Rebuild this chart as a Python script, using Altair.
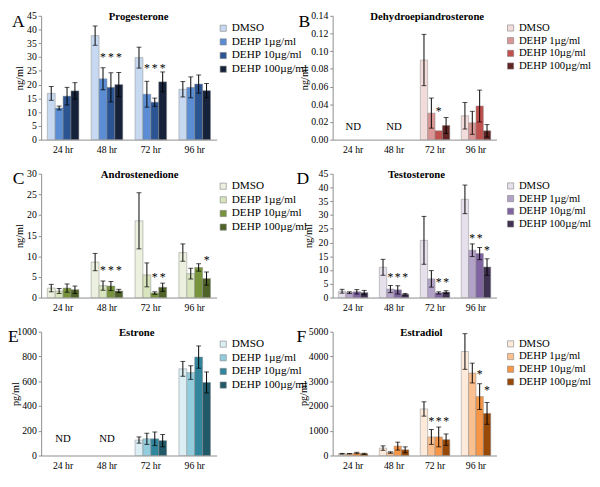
import altair as alt
import pandas as pd

FONT = "Liberation Serif"

times = ["24 hr", "48 hr", "72 hr", "96 hr"]
groups = ["DMSO", "DEHP 1µg/ml", "DEHP 10µg/ml", "DEHP 100µg/ml"]

# ---- A: Progesterone (ng/ml) ----
prog_mean = [[16.8, 11.5, 15.8, 17.7], [37.8, 22.1, 19.0, 20.0], [29.8, 16.5, 13.6, 21.0], [18.3, 19.0, 20.2, 17.8]]
prog_err = [[2.5, 0.7, 3.2, 3.0], [3.5, 4.0, 5.3, 4.4], [3.8, 4.7, 1.5, 3.6], [2.8, 3.8, 3.3, 2.6]]
prog_stars = [("48 hr", 1, 31), ("48 hr", 2, 31), ("48 hr", 3, 31), ("72 hr", 1, 27), ("72 hr", 2, 27), ("72 hr", 3, 27)]
prog_ticks = [0, 5, 10, 15, 20, 25, 30, 35, 40, 45]

# ---- B: Dehydroepiandrosterone (ng/ml) ----
dhea_mean = [None, None, [0.090, 0.030, 0.010, 0.016], [0.027, 0.019, 0.038, 0.010]]
dhea_err = [None, None, [0.029, 0.017, None, 0.009], [0.015, 0.013, 0.018, 0.007]]
dhea_stars = [("72 hr", 2, 0.035)]
dhea_ticks = [0, 0.02, 0.04, 0.06, 0.08, 0.10, 0.12, 0.14]

# ---- C: Androstenedione (ng/ml) ----
andro_mean = [[2.3, 1.6, 2.3, 1.9], [8.6, 2.9, 2.8, 1.6], [18.6, 5.5, 1.1, 2.5], [10.9, 5.8, 7.3, 4.6]]
andro_err = [[0.9, 0.6, 1.0, 0.9], [2.1, 1.1, 1.1, 0.4], [6.8, 2.9, 0.3, 1.0], [2.1, 1.3, 0.9, 1.6]]
andro_stars = [("48 hr", 1, 7.3), ("48 hr", 2, 7.3), ("48 hr", 3, 7.3), ("72 hr", 2, 5.7), ("72 hr", 3, 5.7), ("96 hr", 3, 9.8)]
andro_ticks = [0, 5, 10, 15, 20, 25, 30]

# ---- D: Testosterone (ng/ml) ----
testo_mean = [[2.3, 1.8, 2.1, 1.8], [11.0, 3.1, 2.8, 1.2], [20.8, 6.8, 1.7, 2.0], [35.7, 17.2, 16.0, 11.1]]
testo_err = [[0.7, 0.3, 0.8, 0.8], [2.9, 1.3, 1.5, 0.3], [8.7, 3.0, 0.4, 0.5], [5.2, 2.3, 2.2, 3.0]]
testo_stars = [("48 hr", 1, 8.4), ("48 hr", 2, 8.4), ("48 hr", 3, 8.4), ("72 hr", 2, 6.6), ("72 hr", 3, 6.6),
               ("96 hr", 1, 22.7), ("96 hr", 2, 22.7), ("96 hr", 3, 18.4)]
testo_ticks = [0, 5, 10, 15, 20, 25, 30, 35, 40, 45]

# ---- E: Estrone (pg/ml) ----
estrone_mean = [None, None, [125, 135, 135, 120], [700, 670, 795, 590]]
estrone_err = [None, None, [25, 45, 55, 50], [60, 55, 90, 85]]
estrone_stars = []
estrone_ticks = [0, 200, 400, 600, 800, 1000]

# ---- F: Estradiol (pg/ml) ----
estradiol_mean = [[70, 70, 100, 70], [300, 120, 380, 230], [1880, 750, 750, 640], [4200, 3330, 2380, 1700]]
estradiol_err = [[15, 10, 30, 20], [90, 30, 160, 120], [290, 300, 400, 230], [720, 400, 520, 440]]
estradiol_stars = [("72 hr", 1, 1500), ("72 hr", 2, 1500), ("72 hr", 3, 1500), ("96 hr", 2, 3400), ("96 hr", 3, 2740)]
estradiol_ticks = [0, 1000, 2000, 3000, 4000, 5000]

colors_A = ["#C6D9F1", "#5A8DD3", "#2B5492", "#15223A"]
colors_B = ["#F2DCDB", "#D99694", "#C0504D", "#632523"]
colors_C = ["#EBF1DE", "#D7E4BD", "#77933C", "#4F6228"]
colors_D = ["#E6E0EC", "#B3A2C7", "#8064A2", "#3F3151"]
colors_E = ["#DBEEF4", "#93CDDD", "#31859C", "#215968"]
colors_F = ["#FDEADA", "#FAC090", "#F79646", "#984807"]

H = 127
W_LEFT = 180
W_RIGHT = 168


def panel(letter, title, unit, means, errs, stars, ticks, fmt, colors, width,
          letter_x, title_x, ytitle_x, legend_x, legend_font, nd_y=None):
    rows = []
    for ti, t in enumerate(times):
        if means[ti] is None:
            continue
        for gi, g in enumerate(groups):
            m = means[ti][gi]
            e = errs[ti][gi]
            rows.append({"time": t, "grp": g, "mean": m,
                         "lo": (m - e) if e is not None else None,
                         "hi": (m + e) if e is not None else None})
    df = pd.DataFrame(rows)
    edf = df.dropna(subset=["lo"])
    ymax = ticks[-1]
    yscale = alt.Scale(domain=[0, ymax], nice=False, zero=True)
    yaxis = alt.Axis(title=unit, values=ticks, format=fmt, tickSize=3, labelPadding=2,
                     labelOverlap=False, labelFlush=False, labelFont=FONT, titleFont=FONT,
                     titleX=ytitle_x, titleAngle=-90, titleBaseline="bottom")
    xaxis = alt.Axis(title=None, labelAngle=0, ticks=False, labelPadding=5, labelFont=FONT)

    xs = alt.X("time:N", scale=alt.Scale(domain=times, paddingInner=0.28, paddingOuter=0.14), axis=xaxis)
    xo = alt.XOffset("grp:N", scale=alt.Scale(domain=groups, paddingInner=0, paddingOuter=0))

    bars = alt.Chart(df).mark_bar(stroke="#8a8a8a", strokeWidth=0.5).encode(
        x=xs, xOffset=xo, y=alt.Y("mean:Q", scale=yscale, axis=yaxis),
        color=alt.Color("grp:N", scale=alt.Scale(domain=groups, range=colors),
                        legend=alt.Legend(title=None, orient="none", legendX=legend_x, legendY=7,
                                          symbolType="square", symbolSize=40,
                                          symbolStrokeColor="#7f7f7f", symbolStrokeWidth=0.6,
                                          labelFont=FONT, labelFontSize=legend_font, labelColor="#000",
                                          labelOffset=3, rowPadding=1, padding=0, labelLimit=200)),
    )
    rules = alt.Chart(edf).mark_rule(color="#000", strokeWidth=1).encode(
        x=xs, xOffset=xo, y=alt.Y("lo:Q", scale=yscale, axis=yaxis), y2="hi:Q")
    cap_hi = alt.Chart(edf).mark_tick(color="#000", size=5, thickness=1).encode(
        x=xs, xOffset=xo, y=alt.Y("hi:Q", scale=yscale, axis=yaxis))
    cap_lo = alt.Chart(edf).mark_tick(color="#000", size=5, thickness=1).encode(
        x=xs, xOffset=xo, y=alt.Y("lo:Q", scale=yscale, axis=yaxis))

    layers = [bars, rules, cap_hi, cap_lo]

    if nd_y is not None:
        ndf = pd.DataFrame([{"time": t, "yv": nd_y, "lab": "ND"} for ti, t in enumerate(times) if means[ti] is None])
        layers.append(alt.Chart(ndf).mark_text(font=FONT, fontSize=11, color="#000", baseline="middle").encode(
            x=xs, y=alt.Y("yv:Q", scale=yscale, axis=yaxis), text="lab:N"))
    if stars:
        sdf = pd.DataFrame([{"time": t, "grp": groups[g], "y": y, "s": "*"} for t, g, y in stars])
        layers.append(alt.Chart(sdf).mark_text(font=FONT, fontSize=12, color="#000",
                                               baseline="alphabetic", dy=7).encode(
            x=xs, xOffset=xo, y=alt.Y("y:Q", scale=yscale, axis=yaxis), text="s:N"))

    ldf = pd.DataFrame({"s": [letter]})
    layers.append(alt.Chart(ldf).mark_text(font=FONT, fontSize=18, color="#000", align="left",
                                           baseline="alphabetic").encode(
        x=alt.value(letter_x), y=alt.value(11), text="s:N"))
    tdf = pd.DataFrame({"s": [title]})
    layers.append(alt.Chart(tdf).mark_text(font=FONT, fontSize=11, fontWeight="bold", color="#000",
                                           align="center", baseline="alphabetic").encode(
        x=alt.value(title_x), y=alt.value(4), text="s:N"))

    return alt.layer(*layers).properties(width=width, height=H)


pA = panel("A", "Progesterone", "ng/ml", prog_mean, prog_err, prog_stars, prog_ticks, "d",
           colors_A, W_LEFT, -30, 100, -17, W_LEFT + 1, 11.5)
pB = panel("B", "Dehydroepiandrosterone", "ng/ml", dhea_mean, dhea_err, dhea_stars, dhea_ticks, ".2f",
           colors_B, W_RIGHT, -35, 97, -24, W_RIGHT + 9, 11, nd_y=0.0144)
pC = panel("C", "Androstenedione", "ng/ml", andro_mean, andro_err, andro_stars, andro_ticks, "d",
           colors_C, W_LEFT, -29, 101, -17, W_LEFT + 1, 11.5)
pD = panel("D", "Testosterone", "ng/ml", testo_mean, testo_err, testo_stars, testo_ticks, "d",
           colors_D, W_RIGHT, -37, 86, -20, W_RIGHT + 9, 11)
pE = panel("E", "Estrone", "pg/ml", estrone_mean, estrone_err, estrone_stars, estrone_ticks, "d",
           colors_E, W_LEFT, -34, 98, -21, W_LEFT + 1, 11.5, nd_y=130)
pF = panel("F", "Estradiol", "pg/ml", estradiol_mean, estradiol_err, estradiol_stars, estradiol_ticks, "d",
           colors_F, W_RIGHT, -37, 91, -25, W_RIGHT + 9, 11)

chart = alt.concat(pA, pB, pC, pD, pE, pF, columns=2, spacing={"row": 35, "column": 119},
                   bounds="flush").resolve_scale(
    color="independent", x="independent", y="independent", xOffset="independent"
).properties(
    padding={"left": 0, "top": -3, "right": 0, "bottom": 0}
).configure(font=FONT).configure_view(strokeOpacity=0).configure_axis(
    labelFont=FONT, labelFontSize=10, labelColor="#000", titleFont=FONT, titleFontSize=10.5,
    titleFontWeight="normal", titleColor="#000", domainColor="#8c8c8c", tickColor="#8c8c8c", grid=False
).configure_legend(labelFont=FONT).configure_text(font=FONT)

chart.save("out.html", embed_options={"renderer": "svg", "actions": False})
